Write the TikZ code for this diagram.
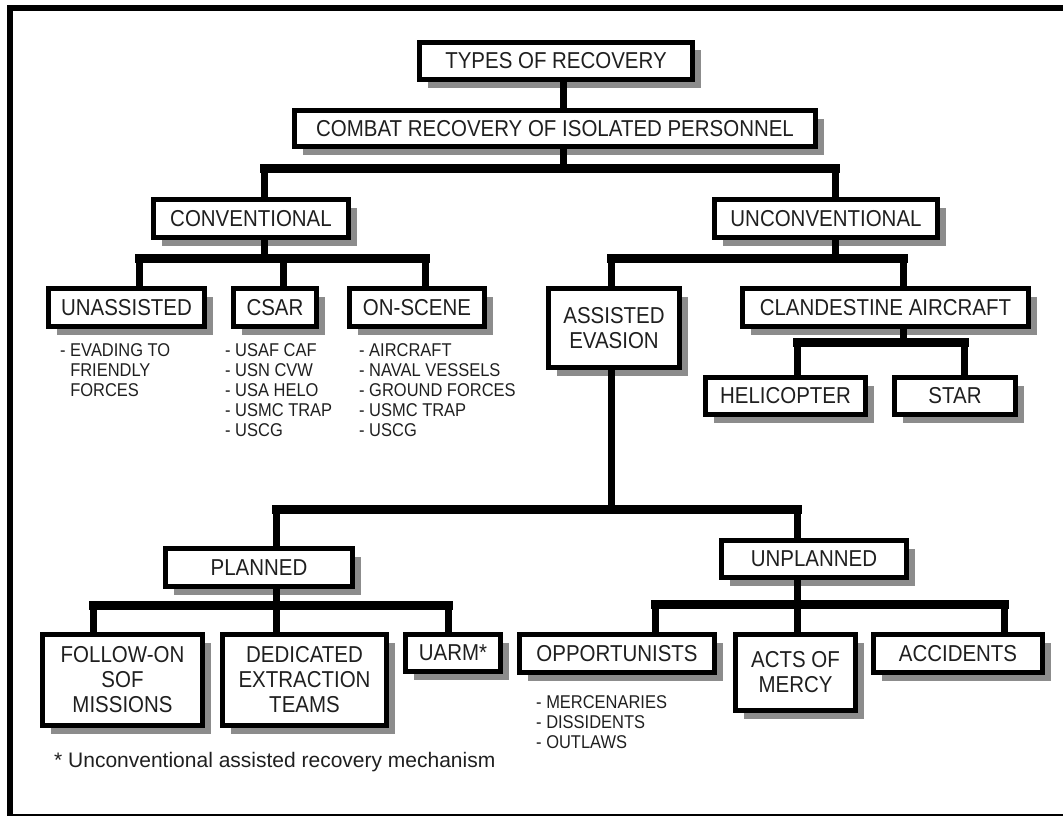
\documentclass[tikz,border=0pt]{standalone}
\usepackage{fontspec}
\setmainfont{Liberation Sans}[FakeStretch=0.89]
\newfontfamily\notefont{Liberation Sans}
\usetikzlibrary{shadows}

\begin{document}
\begin{tikzpicture}[
    x=1pt, y=-1pt,
    box/.style={draw, line width=5pt, fill=white, text=black!88, align=center,
      inner sep=0pt, font=\fontsize{23}{25}\selectfont,
      general shadow={fill=black!45, shadow xshift=8pt, shadow yshift=-8pt}},
    list/.style={anchor=north west, inner sep=0pt, align=left, text=black!88,
      font=\fontsize{18.5}{20.2}\selectfont},
    stem/.style={line width=7pt},
    bar/.style={line width=9pt, line cap=rect}
  ]
  \useasboundingbox (0,0) rectangle (1063,816);
  \begin{scope}
    \clip (0,0) rectangle (1063,816);
    \draw[line width=6pt] (10,8) rectangle (1075,817);
  \end{scope}

  % top of the tree
  \node[box, minimum width=273, minimum height=37] (types) at (556,61) {TYPES OF RECOVERY};
  \node[box, minimum width=521, minimum height=36] (combat) at (555,128.5) {COMBAT RECOVERY OF ISOLATED PERSONNEL};
  \node[box, minimum width=195, minimum height=38] (conv) at (251,218.5) {CONVENTIONAL};
  \node[box, minimum width=223, minimum height=38] (unconv) at (826,218.5) {UNCONVENTIONAL};

  % conventional
  \node[box, minimum width=156, minimum height=38] (unassisted) at (126.5,307.5) {UNASSISTED};
  \node[box, minimum width=83, minimum height=38] (csar) at (275,307.5) {CSAR};
  \node[box, minimum width=135, minimum height=38] (onscene) at (417,307.5) {ON-SCENE};
  \node[list] (unassisted-l) at (60,343) {- EVADING TO\\\phantom{- }FRIENDLY\\\phantom{- }FORCES};
  \node[list] (csar-l) at (225,343) {- USAF CAF\\- USN CVW\\- USA HELO\\- USMC TRAP\\- USCG};
  \node[list] (onscene-l) at (359,343) {- AIRCRAFT\\- NAVAL VESSELS\\- GROUND FORCES\\- USMC TRAP\\- USCG};

  % unconventional
  \node[box, minimum width=131, minimum height=79] (assisted) at (614,328) {ASSISTED\\EVASION};
  \node[box, minimum width=286, minimum height=38] (clandestine) at (885.5,307.5) {CLANDESTINE AIRCRAFT};
  \node[box, minimum width=160, minimum height=37] (heli) at (785.5,396) {HELICOPTER};
  \node[box, minimum width=121, minimum height=37] (star) at (955,396) {STAR};

  % assisted evasion
  \node[box, minimum width=187, minimum height=38] (planned) at (259,567.5) {PLANNED};
  \node[box, minimum width=185, minimum height=37] (unplanned) at (814,559) {UNPLANNED};
  \node[box, minimum width=160, minimum height=91] (followon) at (122.5,680) {FOLLOW-ON\\SOF\\MISSIONS};
  \node[box, minimum width=164, minimum height=91] (dedicated) at (304.5,680) {DEDICATED\\EXTRACTION\\TEAMS};
  \node[box, minimum width=95, minimum height=37] (uarm) at (453,653) {UARM*};
  \node[box, minimum width=195, minimum height=38] (opport) at (617,653.5) {OPPORTUNISTS};
  \node[box, minimum width=120, minimum height=76] (mercy) at (795.5,672.5) {ACTS OF\\MERCY};
  \node[box, minimum width=169, minimum height=38] (accidents) at (958,653.5) {ACCIDENTS};
  \node[list] (opport-l) at (536,695) {- MERCENARIES\\- DISSIDENTS\\- OUTLAWS};
  \node[anchor=west, inner sep=0pt, text=black!88, font=\notefont\fontsize{21}{23}\selectfont] (note) at (54,762) {* Unconventional assisted recovery mechanism};

  % junctions
  \coordinate (j0) at (563,168);
  \coordinate (j0a) at (264,168);
  \coordinate (j0b) at (835,168);
  \coordinate (j1) at (264,258);
  \coordinate (j1a) at (139,258);
  \coordinate (j1b) at (283,258);
  \coordinate (j1c) at (425,258);
  \coordinate (j2) at (835,258);
  \coordinate (j2a) at (611,258);
  \coordinate (j2b) at (903,258);
  \coordinate (j3) at (903,342);
  \coordinate (j3a) at (797,342);
  \coordinate (j3b) at (964,342);
  \coordinate (j4) at (611,509);
  \coordinate (j4a) at (276,509);
  \coordinate (j4b) at (797,509);
  \coordinate (j5) at (276,605);
  \coordinate (j5a) at (93,605);
  \coordinate (j5c) at (448,605);
  \coordinate (j6) at (797,604);
  \coordinate (j6a) at (655,604);
  \coordinate (j6c) at (1004,604);

  % connectors
  \draw[stem] (types.south -| j0) -- (combat.north -| j0);
  \draw[stem] (combat.south -| j0) -- (j0);
  \draw[bar] (j0a) -- (j0b);
  \draw[stem] (j0a) -- (conv.north -| j0a);
  \draw[stem] (j0b) -- (unconv.north -| j0b);

  \draw[stem] (conv.south -| j1) -- (j1);
  \draw[bar] (j1a) -- (j1c);
  \draw[stem] (j1a) -- (unassisted.north -| j1a);
  \draw[stem] (j1b) -- (csar.north -| j1b);
  \draw[stem] (j1c) -- (onscene.north -| j1c);

  \draw[stem] (unconv.south -| j2) -- (j2);
  \draw[bar] (j2a) -- (j2b);
  \draw[stem] (j2a) -- (assisted.north -| j2a);
  \draw[stem] (j2b) -- (clandestine.north -| j2b);

  \draw[stem] (clandestine.south -| j3) -- (j3);
  \draw[bar] (j3a) -- (j3b);
  \draw[stem] (j3a) -- (heli.north -| j3a);
  \draw[stem] (j3b) -- (star.north -| j3b);

  \draw[stem] (assisted.south -| j4) -- (j4);
  \draw[bar] (j4a) -- (j4b);
  \draw[stem] (j4a) -- (planned.north -| j4a);
  \draw[stem] (j4b) -- (unplanned.north -| j4b);

  \draw[stem] (planned.south -| j5) -- (j5);
  \draw[bar] (j5a) -- (j5c);
  \draw[stem] (j5a) -- (followon.north -| j5a);
  \draw[stem] (j5) -- (dedicated.north -| j5);
  \draw[stem] (j5c) -- (uarm.north -| j5c);

  \draw[stem] (unplanned.south -| j6) -- (j6);
  \draw[bar] (j6a) -- (j6c);
  \draw[stem] (j6a) -- (opport.north -| j6a);
  \draw[stem] (j6) -- (mercy.north -| j6);
  \draw[stem] (j6c) -- (accidents.north -| j6c);
\end{tikzpicture}
\end{document}
